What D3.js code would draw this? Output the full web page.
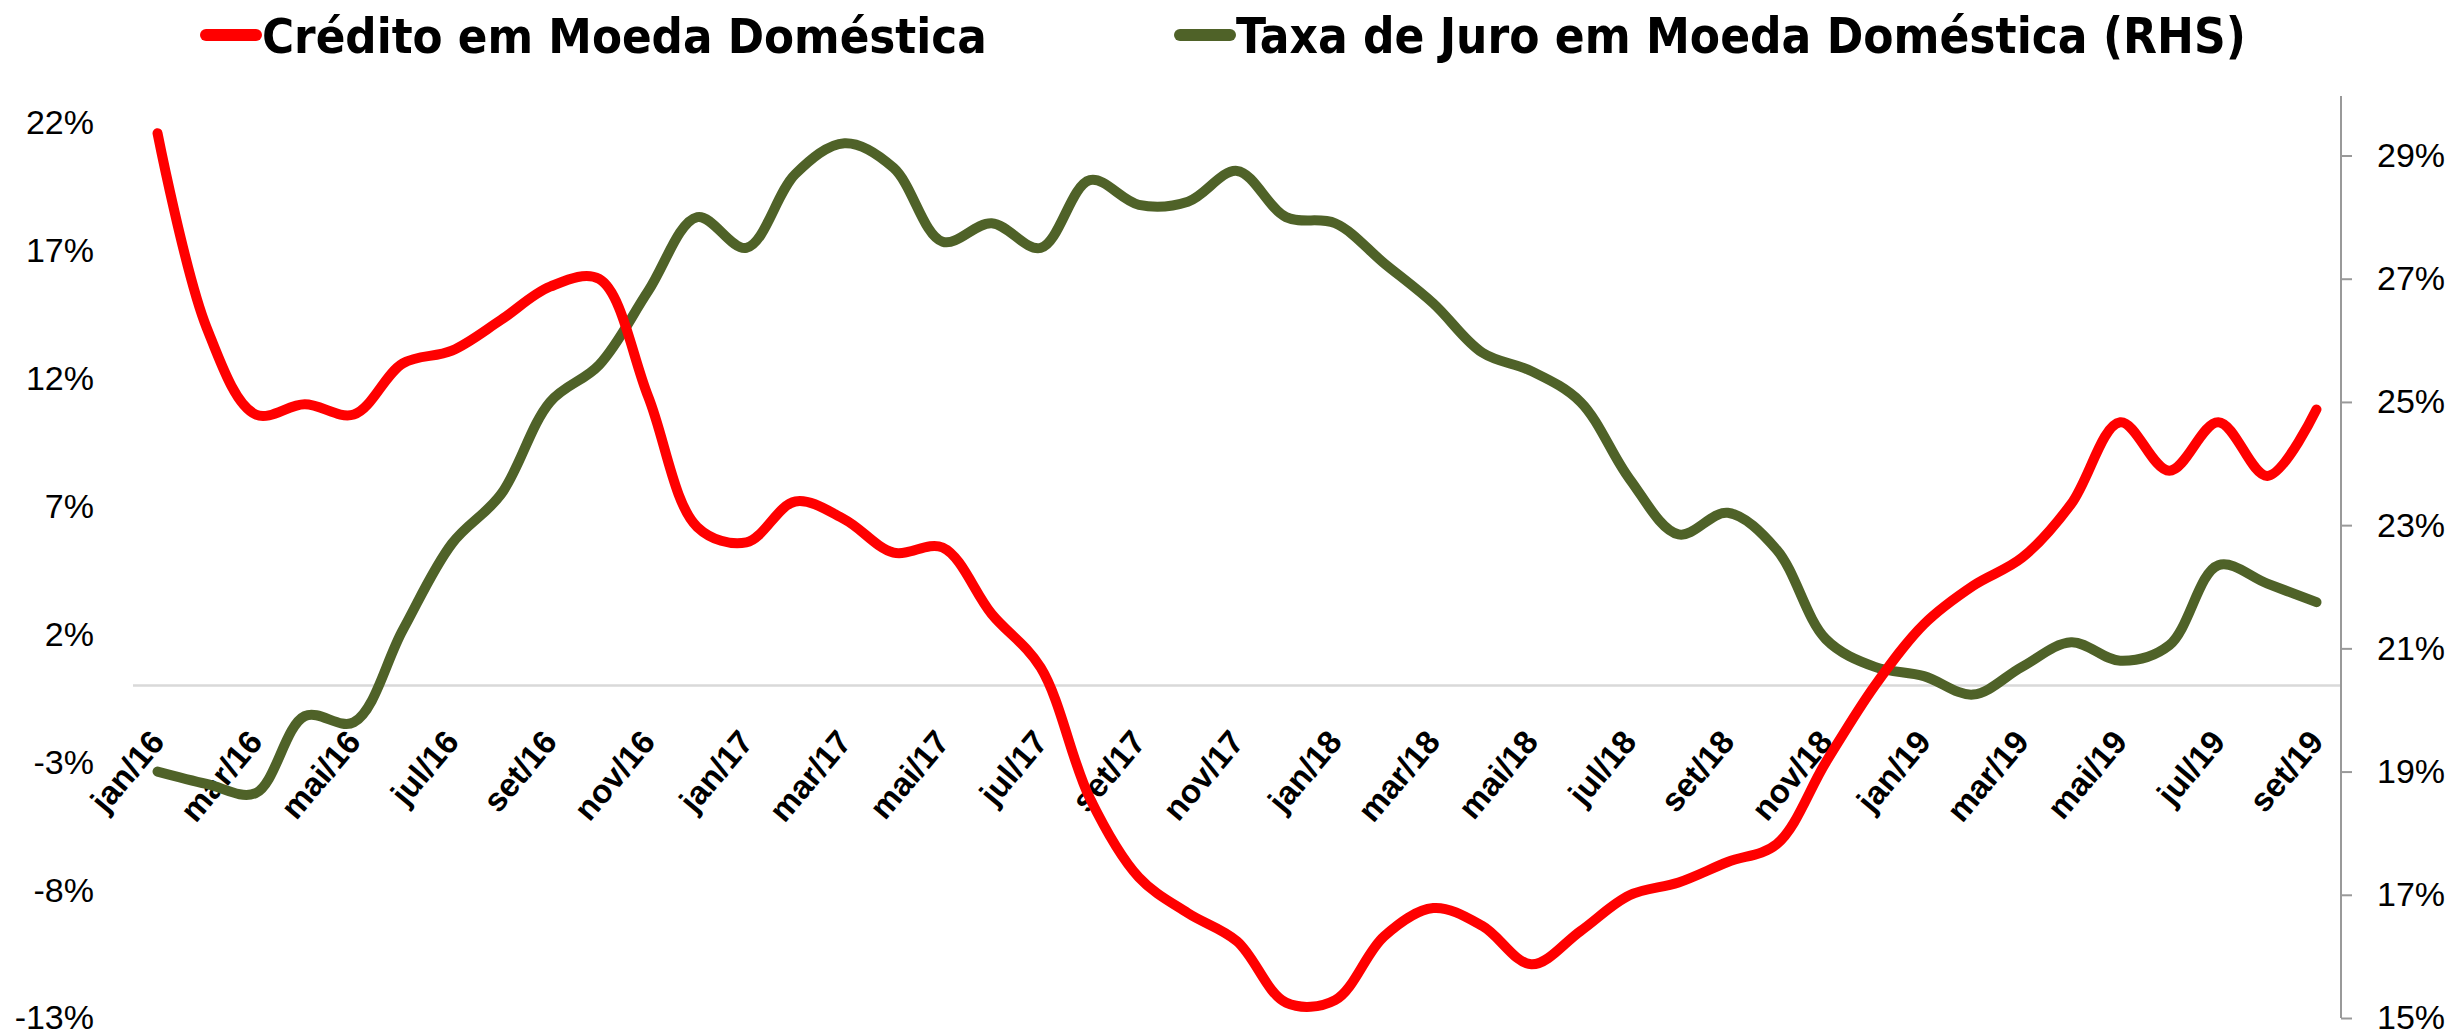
<!DOCTYPE html>
<html>
<head>
<meta charset="utf-8">
<script src="https://cdn.jsdelivr.net/npm/d3@7"></script>
<style>
  html, body { margin: 0; padding: 0; background: #fff; }
  svg { display: block; }
</style>
</head>
<body>
<div id="chart"></div>
<script>
// Crédito vs taxa de juro em moeda doméstica, jan/16 - set/19, dual axis.

const months = [
  "jan/16", "fev/16", "mar/16", "abr/16", "mai/16", "jun/16", "jul/16", "ago/16", "set/16", "out/16", "nov/16", "dez/16",
  "jan/17", "fev/17", "mar/17", "abr/17", "mai/17", "jun/17", "jul/17", "ago/17", "set/17", "out/17", "nov/17", "dez/17",
  "jan/18", "fev/18", "mar/18", "abr/18", "mai/18", "jun/18", "jul/18", "ago/18", "set/18", "out/18", "nov/18", "dez/18",
  "jan/19", "fev/19", "mar/19", "abr/19", "mai/19", "jun/19", "jul/19", "ago/19", "set/19"
];

// left axis, %
const credito = [
  21.6, 14.0, 10.6, 11.0, 10.6, 12.6, 13.1, 14.3, 15.6, 15.9, 11.3, 6.2,
  5.6, 7.2, 6.5, 5.2, 5.4, 2.8, 0.7, -4.4, -7.5, -8.9, -10.0, -12.4,
  -12.3, -9.8, -8.7, -9.4, -10.9, -9.6, -8.2, -7.7, -6.9, -6.2, -3.0, 0.0,
  2.4, 3.9, 5.0, 7.1, 10.3, 8.4, 10.3, 8.2, 10.8
];

// right axis (RHS), %
const taxa = [
  19.0, 18.8, 18.65, 19.9, 19.8, 21.3, 22.7, 23.5, 25.0, 25.6, 26.8, 28.0,
  27.5, 28.7, 29.2, 28.8, 27.6, 27.9, 27.5, 28.6, 28.2, 28.25, 28.75, 28.0,
  27.9, 27.25, 26.6, 25.8, 25.5, 25.0, 23.75, 22.85, 23.2, 22.6, 21.15, 20.7,
  20.55, 20.25, 20.7, 21.1, 20.8, 21.05, 22.35, 22.05, 21.75
];

const leftTicks = [-13, -8, -3, 2, 7, 12, 17, 22];
const rightTicks = [15, 17, 19, 21, 23, 25, 27, 29];
const xLabelMonths = months.filter((d, i) => i % 2 === 0);

const seriesNames = ["Crédito em Moeda Doméstica", "Taxa de Juro em Moeda Doméstica (RHS)"];
const seriesColors = ["#ff0000", "#4f6228"];

const W = 2453, H = 1036;
const plot = { left: 133, right: 2341, top: 96, bottom: 1018 };

const svg = d3.select("#chart").append("svg")
  .attr("width", W).attr("height", H)
  .attr("viewBox", `0 0 ${W} ${H}`);

const x = d3.scalePoint().domain(months).range([plot.left, plot.right]).padding(0.5);
const yL = d3.scaleLinear().domain([-13, 22]).range([plot.bottom, 123]);
const yR = d3.scaleLinear().domain([15, 29]).range([plot.bottom, 155.5]);

// zero line
svg.append("line")
  .attr("x1", plot.left).attr("x2", plot.right)
  .attr("y1", yL(0)).attr("y2", yL(0))
  .attr("stroke", "#d9d9d9").attr("stroke-width", 2.5);

// left axis: labels only
svg.append("g")
  .attr("transform", `translate(94, 0)`)
  .call(d3.axisLeft(yL).tickValues(leftTicks).tickSize(0).tickPadding(0).tickFormat((d) => `${d}%`))
  .call((g) => g.select(".domain").remove())
  .call((g) => g.selectAll(".tick text")
    .attr("font-family", "'Liberation Sans', Arial, sans-serif")
    .attr("font-size", 34).attr("fill", "#000"));

// right axis
svg.append("line")
  .attr("x1", plot.right).attr("x2", plot.right)
  .attr("y1", plot.top).attr("y2", plot.bottom)
  .attr("stroke", "#999").attr("stroke-width", 2);

svg.append("g")
  .attr("transform", `translate(${plot.right}, 0)`)
  .call(d3.axisRight(yR).tickValues(rightTicks).tickSize(11).tickPadding(25).tickFormat((d) => `${d}%`))
  .call((g) => g.select(".domain").remove())
  .call((g) => g.selectAll(".tick line").attr("stroke", "#999").attr("stroke-width", 2))
  .call((g) => g.selectAll(".tick text")
    .attr("font-family", "'Liberation Sans', Arial, sans-serif")
    .attr("font-size", 34).attr("fill", "#000"));

// x axis labels, rotated, sitting under the zero line
svg.append("g")
  .attr("transform", `translate(0, ${yL(0)})`)
  .call(d3.axisBottom(x).tickValues(xLabelMonths).tickSize(0).tickPadding(0))
  .call((g) => g.select(".domain").remove())
  .call((g) => g.selectAll(".tick text")
    .attr("font-family", "'Liberation Sans', Arial, sans-serif")
    .attr("font-weight", "bold")
    .attr("font-size", 33)
    .attr("fill", "#000")
    .attr("text-anchor", "end")
    .attr("dy", 0)
    .attr("y", 0)
    .attr("transform", "translate(8, 57) rotate(-50)"));

// lines
const lineL = d3.line().x((d, i) => x(months[i])).y((d) => yL(d)).curve(d3.curveCatmullRom.alpha(0.5));
const lineR = d3.line().x((d, i) => x(months[i])).y((d) => yR(d)).curve(d3.curveCatmullRom.alpha(0.5));

svg.append("path")
  .attr("d", lineR(taxa))
  .attr("fill", "none").attr("stroke", seriesColors[1])
  .attr("stroke-width", 10).attr("stroke-linecap", "round").attr("stroke-linejoin", "round");

svg.append("path")
  .attr("d", lineL(credito))
  .attr("fill", "none").attr("stroke", seriesColors[0])
  .attr("stroke-width", 10).attr("stroke-linecap", "round").attr("stroke-linejoin", "round");

// legend
const legendX = [262, 1236];
const legendW = [725, 1010];
const legend = svg.append("g");
seriesNames.forEach((name, i) => {
  legend.append("line")
    .attr("x1", legendX[i] - 56).attr("x2", legendX[i] - 6)
    .attr("y1", 35).attr("y2", 35)
    .attr("stroke", seriesColors[i]).attr("stroke-width", 12).attr("stroke-linecap", "round");
  const t = legend.append("text")
    .attr("x", legendX[i]).attr("y", 53)
    .attr("font-family", "'DejaVu Sans Condensed', 'DejaVu Sans', sans-serif")
    .attr("font-weight", "bold")
    .attr("font-size", 48)
    .attr("fill", "#000")
    .text(name);
  const len = t.node().getComputedTextLength();
  t.attr("font-size", 48 * legendW[i] / len);
});
</script>
</body>
</html>
